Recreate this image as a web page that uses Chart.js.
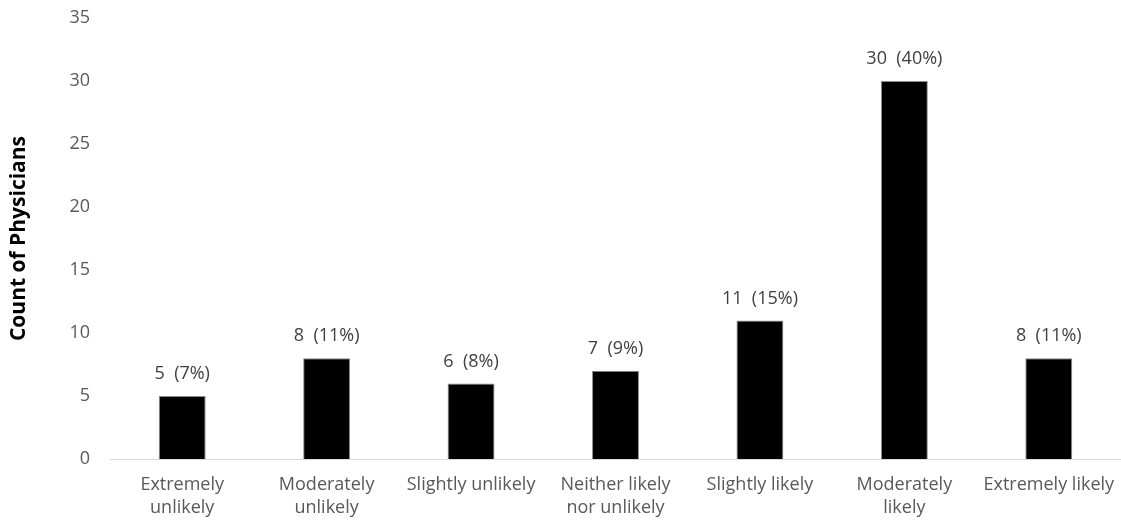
<!DOCTYPE html>
<html>
<head>
<meta charset="utf-8">
<script src="https://cdn.jsdelivr.net/npm/chart.js@4.4.1/dist/chart.umd.min.js"></script>
<style>
  html, body { margin: 0; padding: 0; background: #ffffff; }
  #wrap { width: 1121px; height: 522px; position: relative; }
</style>
</head>
<body>
<div id="wrap"><canvas id="chart"></canvas></div>
<script>
// Likelihood response categories (x axis)
const categories = [
  ["Extremely", "unlikely"],
  ["Moderately", "unlikely"],
  "Slightly unlikely",
  ["Neither likely", "nor unlikely"],
  "Slightly likely",
  ["Moderately", "likely"],
  "Extremely likely"
];
// Number of physicians per response
const counts = [5, 8, 6, 7, 11, 30, 8];
// Share of all respondents, as printed beside each count
const percents = [7, 11, 8, 9, 15, 40, 11];
// Y axis range
const yMin = 0, yMax = 35, yStep = 5;

const FONT = "'Open Sans', Lato, sans-serif";

// Draws "count  (pct%)" above each bar
const barValueLabels = {
  id: 'barValueLabels',
  afterDatasetsDraw(chart) {
    const ctx = chart.ctx;
    const meta = chart.getDatasetMeta(0);
    ctx.save();
    ctx.font = "18px " + FONT;
    ctx.fillStyle = "#404040";
    ctx.textAlign = "center";
    ctx.textBaseline = "middle";
    meta.data.forEach((bar, i) => {
      const text = counts[i] + "  (" + percents[i] + "%)";
      ctx.fillText(text, bar.x, bar.y - 22);
    });
    ctx.restore();
  }
};

new Chart(document.getElementById('chart'), {
  type: 'bar',
  data: {
    labels: categories,
    datasets: [{
      data: counts,
      backgroundColor: '#000000',
      borderColor: '#8c8c8c',
      borderWidth: 1,
      barPercentage: 0.65,
      categoryPercentage: 0.5
    }]
  },
  options: {
    responsive: true,
    maintainAspectRatio: false,
    animation: false,
    layout: { padding: { top: 18, right: 0, left: 0, bottom: 0 } },
    plugins: {
      legend: { display: false },
      tooltip: { enabled: false }
    },
    scales: {
      x: {
        grid: { display: false },
        border: { display: true, color: '#d9d9d9', width: 1 },
        ticks: {
          color: '#595959',
          font: { family: FONT, size: 18, lineHeight: 1.28 },
          maxRotation: 0,
          autoSkip: false,
          padding: 6
        },
        afterFit(scale) { scale.height = 63; }
      },
      y: {
        min: yMin,
        max: yMax,
        grid: { display: false },
        border: { display: false },
        ticks: {
          stepSize: yStep,
          color: '#595959',
          font: { family: FONT, size: 18 },
          padding: 12
        },
        title: {
          display: true,
          text: 'Count of Physicians',
          color: '#000000',
          font: { family: FONT, size: 21, weight: 'bold' },
          padding: { top: 6, bottom: 0 }
        },
        afterFit(scale) {
          scale.width = 110;
          scale.paddingTop = 0;
          scale.paddingBottom = 0;
        }
      }
    }
  },
  plugins: [barValueLabels]
});
</script>
</body>
</html>
